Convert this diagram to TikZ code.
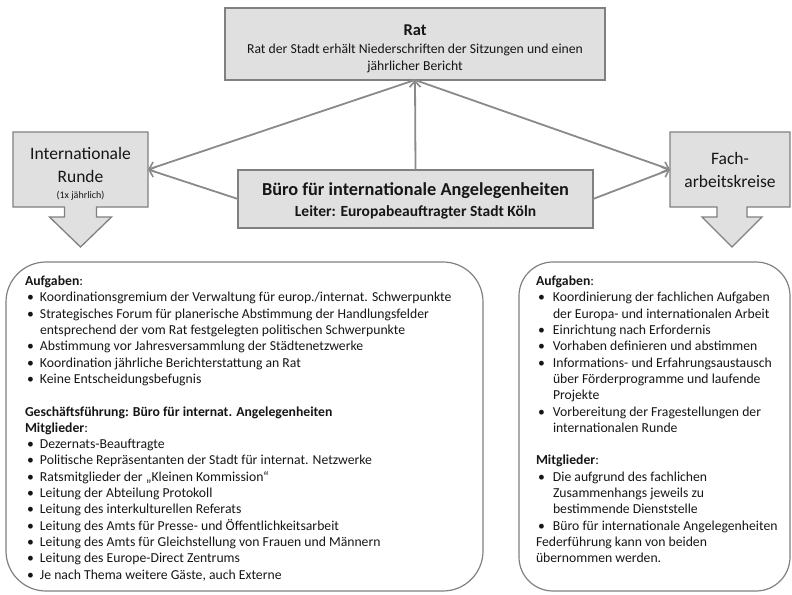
\documentclass[tikz,border=0pt]{standalone}
\usepackage{fontspec}
\setmainfont{Carlito}
\usetikzlibrary{arrows.meta,backgrounds,calc}

\definecolor{boxfill}{RGB}{224,224,224}
\definecolor{boxline}{RGB}{128,128,128}
\definecolor{linkgray}{RGB}{138,138,138}
\definecolor{txt}{RGB}{22,22,22}

% bullet line and continuation line inside the lists
\newcommand\bitem[2][15pt]{\makebox[#1][l]{\hspace{2pt}\textbullet}#2}
\newcommand\bcont[2][15pt]{\hspace*{#1}#2}

\tikzset{
  headbox/.style={draw=boxline, fill=boxfill, line width=1.3pt, inner sep=0pt, outer sep=0pt},
  labeltext/.style={inner sep=0pt, outer sep=0pt, align=center, text=txt},
  pointer/.style={draw=boxline, fill=boxfill, line width=1.3pt, line join=miter},
  bigbox/.style={draw=boxline, line width=1.2pt, inner sep=0pt, outer sep=0pt},
  listtext/.style={inner sep=0pt, outer sep=0pt, align=left, anchor=north west, text=txt,
    font=\fontsize{13.7}{16.3}\selectfont},
  link/.style={draw=linkgray, line width=1.8pt, -{Straight Barb[length=6pt,width=11pt,line width=1.6pt]}},
}

\begin{document}
\begin{tikzpicture}[x=1pt,y=-1pt]
\useasboundingbox (0,0) rectangle (792,594);

% council at the top
\node[headbox, minimum width=380, minimum height=72] (rat) at (415,44) {};
\node[labeltext, font=\fontsize{13.7}{17}\selectfont] (ratlabel) at (415,49)
  {{\fontsize{16.5}{17}\selectfont\bfseries Rat}\\[1pt]
   Rat der Stadt erhält Niederschriften der Sitzungen und einen\\
   jährlicher Bericht};

% central office
\node[headbox, minimum width=355, minimum height=58] (buero) at (415.5,199) {};
\node[labeltext, font=\fontsize{15.5}{21}\selectfont] (buerolabel) at (415.5,201)
  {{\fontsize{18.3}{22}\selectfont\bfseries Büro für internationale Angelegenheiten}\\
   {\bfseries Leiter: Europabeauftragter Stadt Köln}};

% the two working groups, each with a pointer below
\coordinate (intl) at (80.5,169.5);
\path (intl) +(-67.5,-37.5) coordinate (intlNW) +(67.5,-37.5) coordinate (intlNE)
             +(67.5,37.5) coordinate (intlSE) +(-67.5,37.5) coordinate (intlSW)
             +(0,37.5) coordinate (intlS) +(67.5,0) coordinate (intlE);
\node[labeltext, font=\fontsize{17.5}{23}\selectfont] (intllabel) at (80.5,174)
  {Internationale\\
   Runde\\[-7pt]
   {\fontsize{10}{12}\selectfont (1x jährlich)}};

\coordinate (fach) at (730,169.5);
\path (fach) +(-60,-37.5) coordinate (fachNW) +(60,-37.5) coordinate (fachNE)
             +(60,37.5) coordinate (fachSE) +(-60,37.5) coordinate (fachSW)
             +(0,37.5) coordinate (fachS) +(-60,0) coordinate (fachW);
\node[labeltext, font=\fontsize{17.5}{23}\selectfont] (fachlabel) at (730,169.5)
  {Fach-\\arbeitskreise};

\begin{scope}[on background layer]
  \path[pointer] (intlNW) -- (intlNE) -- (intlSE)
    -- ($(intlS)+(16,0)$) -- ($(intlS)+(16,10)$) -- ($(intlS)+(31,10)$)
    -- ($(intlS)+(0,40)$)
    -- ($(intlS)+(-31,10)$) -- ($(intlS)+(-16,10)$) -- ($(intlS)+(-16,0)$)
    -- (intlSW) -- cycle;
  \path[pointer] (fachNW) -- (fachNE) -- (fachSE)
    -- ($(fachS)+(17,0)$) -- ($(fachS)+(17,10)$) -- ($(fachS)+(32,10)$)
    -- ($(fachS)+(2,40)$)
    -- ($(fachS)+(-28,10)$) -- ($(fachS)+(-13,10)$) -- ($(fachS)+(-13,0)$)
    -- (fachSW) -- cycle;
\end{scope}

% connectors
\draw[link] (buero.north) -- (rat.south);
\draw[link] (rat.south) -- (intlE);
\draw[link] (rat.south) -- (fachW);
\draw[link] (buero.west) -- (intlE);
\draw[link] (buero.east) -- (fachW);

% description panels
\node[bigbox, minimum width=477, minimum height=329, rounded corners=40] (panelL) at (244.5,426.5) {};
\node[bigbox, minimum width=271, minimum height=329, rounded corners=34] (panelR) at (654.5,426.5) {};

\node[listtext] (listL) at (25,276) {%
  \textbf{Aufgaben}:\\
  \bitem{Koordinationsgremium der Verwaltung für europ./internat. Schwerpunkte}\\
  \bitem{Strategisches Forum für planerische Abstimmung der Handlungsfelder}\\
  \bcont{entsprechend der vom Rat festgelegten politischen Schwerpunkte}\\
  \bitem{Abstimmung vor Jahresversammlung der Städtenetzwerke}\\
  \bitem{Koordination jährliche Berichterstattung an Rat}\\
  \bitem{Keine Entscheidungsbefugnis}\\[16.3pt]
  \textbf{Geschäftsführung: Büro für internat. Angelegenheiten}\\
  \textbf{Mitglieder}:\\
  \bitem{Dezernats-Beauftragte}\\
  \bitem{Politische Repräsentanten der Stadt für internat. Netzwerke}\\
  \bitem{Ratsmitglieder der „Kleinen Kommission“}\\
  \bitem{Leitung der Abteilung Protokoll}\\
  \bitem{Leitung des interkulturellen Referats}\\
  \bitem{Leitung des Amts für Presse- und Öffentlichkeitsarbeit}\\
  \bitem{Leitung des Amts für Gleichstellung von Frauen und Männern}\\
  \bitem{Leitung des Europe-Direct Zentrums}\\
  \bitem{Je nach Thema weitere Gäste, auch Externe}};

\node[listtext] (listR) at (536,276) {%
  \textbf{Aufgaben}:\\
  \bitem[17pt]{Koordinierung der fachlichen Aufgaben}\\
  \bcont[17pt]{der Europa- und internationalen Arbeit}\\
  \bitem[17pt]{Einrichtung nach Erfordernis}\\
  \bitem[17pt]{Vorhaben definieren und abstimmen}\\
  \bitem[17pt]{Informations- und Erfahrungsaustausch}\\
  \bcont[17pt]{über Förderprogramme und laufende}\\
  \bcont[17pt]{Projekte}\\
  \bitem[17pt]{Vorbereitung der Fragestellungen der}\\
  \bcont[17pt]{internationalen Runde}\\[16.3pt]
  \textbf{Mitglieder}:\\
  \bitem[17pt]{Die aufgrund des fachlichen}\\
  \bcont[17pt]{Zusammenhangs jeweils zu}\\
  \bcont[17pt]{bestimmende Dienststelle}\\
  \bitem[17pt]{Büro für internationale Angelegenheiten}\\
  Federführung kann von beiden\\
  übernommen werden.};
\end{tikzpicture}
\end{document}
